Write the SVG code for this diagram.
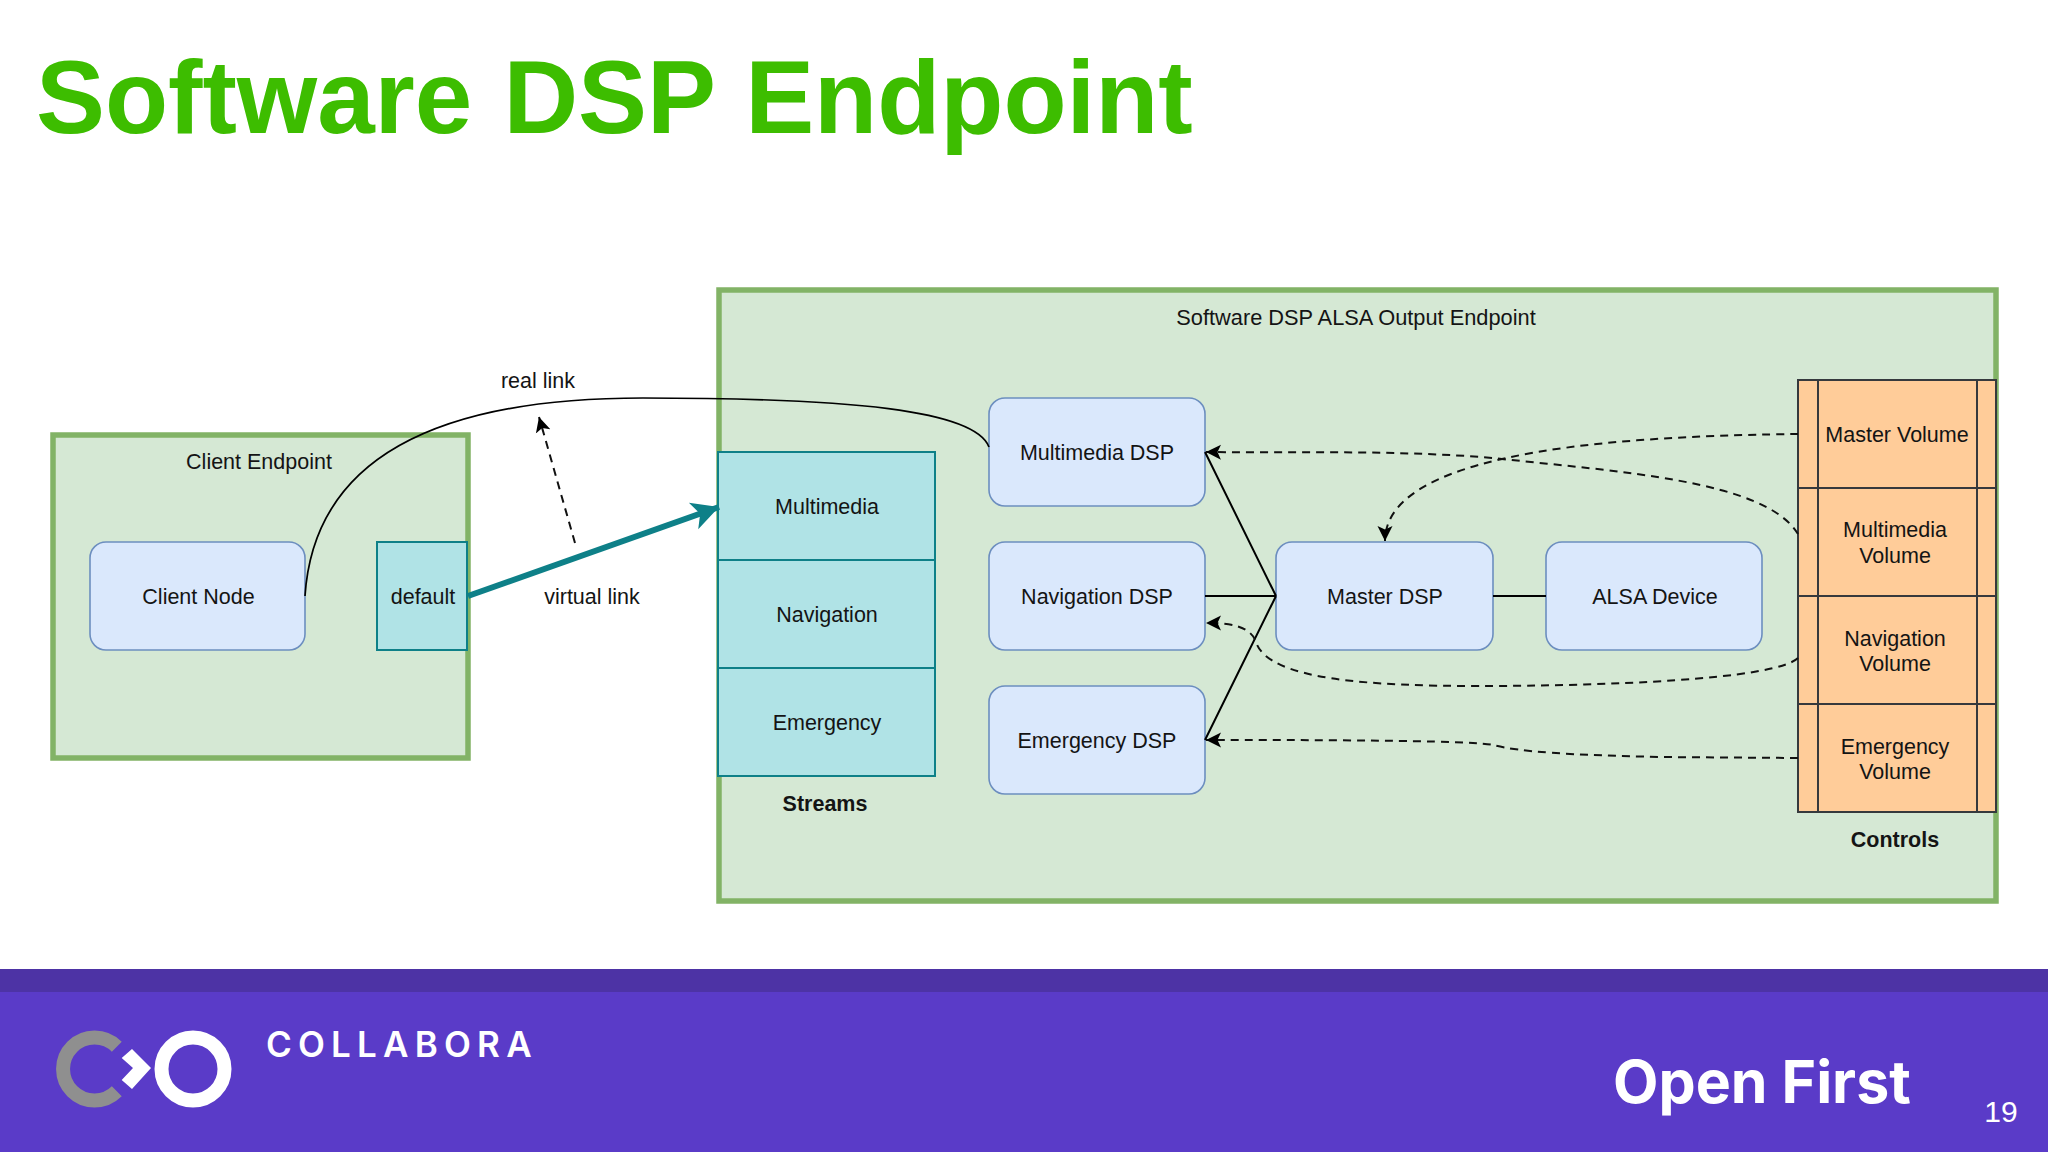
<svg xmlns="http://www.w3.org/2000/svg" width="2048" height="1152" viewBox="0 0 2048 1152">
<style>
text{font-family:"Liberation Sans",Arial,sans-serif;font-size:21.5px;fill:#141414;text-anchor:middle}
.b{font-weight:700}
.grp{fill:#d5e8d4;stroke:#82b366;stroke-width:5.5}
.node{fill:#dae8fc;stroke:#6c8ebf;stroke-width:1.6}
.teal{fill:#b0e3e6;stroke:#0e8088;stroke-width:2}
.org{fill:#ffcc99;stroke:#36393d;stroke-width:2}
.l{fill:none;stroke:#000;stroke-width:2}
.d{fill:none;stroke:#111;stroke-width:2;stroke-dasharray:8 6;marker-end:url(#ah)}
</style>
<defs>
<marker id="ah" markerUnits="userSpaceOnUse" markerWidth="16" markerHeight="18" refX="15" refY="9" orient="auto"><path d="M15 9 L0 1.5 L3.5 9 L0 16.5 Z" fill="#000"/></marker>
<marker id="ahT" markerUnits="userSpaceOnUse" markerWidth="30" markerHeight="32" refX="27" refY="16" orient="auto"><path d="M27 16 L0 2 L7 16 L0 30 Z" fill="#0e8088"/></marker>
</defs>
<rect width="2048" height="1152" fill="#fff"/>
<g id="title"><text x="36" y="132.5" style="font-size:103.4px;text-anchor:start;fill:#3dbd00;word-spacing:2.5px;letter-spacing:-0.05px" class="b">Software DSP Endpoint</text></g>
<g id="footer">
<rect y="969" width="2048" height="183" fill="#5a3bc8"/>
<rect y="969" width="2048" height="23" fill="#4d33a5"/>
<path d="M116.8 1046.7 A31.5 31.5 0 1 0 116.8 1091.3" fill="none" stroke="#8f8f8f" stroke-width="14"/>
<polygon points="132,1049 151,1068 132,1089 121.7,1080 133,1068 121.7,1058" fill="#fff"/>
<circle cx="193" cy="1069" r="31.5" fill="none" stroke="#fff" stroke-width="14"/>
<text x="266" y="1057" style="font-family:Inter,sans-serif;font-size:35px;font-weight:600;text-anchor:start;fill:#fff;letter-spacing:6.2px">COLLABORA</text>
<text x="1613" y="1103" style="font-family:Inter,sans-serif;font-size:59px;font-weight:700;text-anchor:start;fill:#fff">Open First</text>
<text x="2001" y="1122" style="font-size:30px;fill:#fff">19</text>
</g>
<g id="client-endpoint"><rect class="grp" x="53" y="435" width="415" height="323"/><text x="259" y="469">Client Endpoint</text></g>
<g id="dsp-endpoint"><rect class="grp" x="719" y="290" width="1277" height="611"/><text x="1356" y="325" style="font-size:21.8px">Software DSP ALSA Output Endpoint</text></g>
<g id="client-node"><rect class="node" x="90" y="542" width="215" height="108" rx="16"/><text x="198.5" y="604">Client Node</text></g>
<g id="default"><rect class="teal" x="377" y="542" width="90" height="108"/><text x="423" y="604">default</text></g>
<g id="stream-multimedia"><rect class="teal" x="718" y="452" width="217" height="108"/><text x="827" y="514">Multimedia</text></g>
<g id="stream-navigation"><rect class="teal" x="718" y="560" width="217" height="108"/><text x="827" y="622">Navigation</text></g>
<g id="stream-emergency"><rect class="teal" x="718" y="668" width="217" height="108"/><text x="827" y="730">Emergency</text></g>
<g id="streams-label"><text class="b" x="825" y="811">Streams</text></g>
<g id="multimedia-dsp"><rect class="node" x="989" y="398" width="216" height="108" rx="16"/><text x="1097" y="460">Multimedia DSP</text></g>
<g id="navigation-dsp"><rect class="node" x="989" y="542" width="216" height="108" rx="16"/><text x="1097" y="604">Navigation DSP</text></g>
<g id="emergency-dsp"><rect class="node" x="989" y="686" width="216" height="108" rx="16"/><text x="1097" y="748">Emergency DSP</text></g>
<g id="master-dsp"><rect class="node" x="1276" y="542" width="217" height="108" rx="16"/><text x="1385" y="604">Master DSP</text></g>
<g id="alsa-device"><rect class="node" x="1546" y="542" width="216" height="108" rx="16"/><text x="1655" y="604">ALSA Device</text></g>
<g id="master-volume"><rect class="org" x="1798" y="380" width="198" height="108"/><path class="org" d="M1818 380V488M1977 380V488"/><text x="1897" y="442">Master Volume</text></g>
<g id="multimedia-volume"><rect class="org" x="1798" y="488" width="198" height="108"/><path class="org" d="M1818 488V596M1977 488V596"/><text x="1895" y="537">Multimedia</text><text x="1895" y="563">Volume</text></g>
<g id="navigation-volume"><rect class="org" x="1798" y="596" width="198" height="108"/><path class="org" d="M1818 596V704M1977 596V704"/><text x="1895" y="646">Navigation</text><text x="1895" y="671">Volume</text></g>
<g id="emergency-volume"><rect class="org" x="1798" y="704" width="198" height="108"/><path class="org" d="M1818 704V812M1977 704V812"/><text x="1895" y="754">Emergency</text><text x="1895" y="779">Volume</text></g>
<g id="controls-label"><text class="b" x="1895" y="847">Controls</text></g>
<g id="connectors">
<path class="l" style="stroke-width:1.7" d="M305 596 C310 520 350 398 643 398 C850 398 975 410 989 447"/>
<path d="M468 596 L719 507" fill="none" stroke="#0e8088" stroke-width="6" marker-end="url(#ahT)"/>
<path class="d" d="M575 543 L539 417"/>
<path class="l" d="M1276 596 L1205 452 M1276 596 L1205 596 M1276 596 L1205 740 M1493 596 L1546 596"/>
<path class="d" d="M1798 534 C1765 480 1620 472 1493 458 C1400 450 1300 453 1206 452"/>
<path class="d" d="M1798 434 C1650 436 1385 445 1385 541"/>
<path class="d" d="M1798 658 C1775 680 1600 686 1480 686 C1370 686 1268 680 1256 642 C1250 625 1228 623 1206 623"/>
<path class="d" d="M1798 758 L1660 757 C1570 755 1520 752 1493 745 C1470 740 1300 740 1206 740"/>
</g>
<g id="edge-labels"><text x="538" y="388">real link</text><text x="592" y="604">virtual link</text></g>
</svg>
